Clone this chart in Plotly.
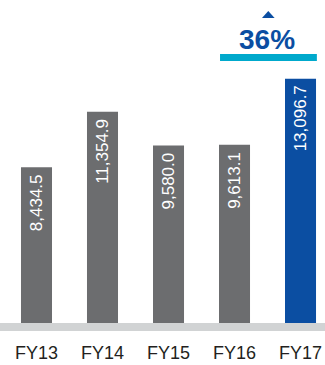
import plotly.graph_objects as go

# Fiscal-year totals
years = ["FY13", "FY14", "FY15", "FY16", "FY17"]
values = [8434.5, 11354.9, 9580.0, 9613.1, 13096.7]
bar_colors = ["#6c6d6f", "#6c6d6f", "#6c6d6f", "#6c6d6f", "#0b4ea2"]
growth_label = "36%"

FONT = "Liberation Sans, Arial, sans-serif"
BLUE = "#0b4ea2"
CYAN = "#00a9cc"

fig = go.Figure(
    go.Bar(
        x=years,
        y=values,
        marker=dict(color=bar_colors, line=dict(width=0)),
        width=0.47,
        hoverinfo="skip",
    )
)

fig.update_layout(
    width=325,
    height=365,
    margin=dict(l=0, r=0, t=0, b=38),
    paper_bgcolor="white",
    plot_bgcolor="white",
    showlegend=False,
    xaxis=dict(
        range=[-0.553, 4.371],
        showgrid=False,
        zeroline=False,
        showline=False,
        ticks="",
        ticklabelstandoff=13,
        tickfont=dict(family=FONT, size=18, color="#231f20"),
        fixedrange=True,
    ),
    yaxis=dict(
        range=[0, 17259],
        visible=False,
        fixedrange=True,
    ),
    shapes=[
        # baseline band
        dict(type="rect", xref="paper", yref="paper", x0=0, x1=1,
             y0=-0.0123, y1=0.0123, fillcolor="#d1d3d4", line=dict(width=0),
             layer="above"),
        # cyan underline beneath growth figure
        dict(type="rect", xref="paper", yref="paper", x0=0.677, x1=0.975,
             y0=0.8135, y1=0.8349, fillcolor=CYAN, line=dict(width=0)),
        # up-arrow marker
        dict(type="path", xref="paper", yref="paper",
             path="M 0.806 0.945 L 0.845 0.945 L 0.8255 0.9664 Z",
             fillcolor=BLUE, line=dict(width=0)),
    ],
)

# growth figure above the latest bar
fig.add_annotation(
    text=f"<b>{growth_label}</b>", xref="paper", yref="paper",
    x=0.822, y=0.88, xanchor="center", yanchor="middle",
    showarrow=False, font=dict(family=FONT, size=28, color=BLUE),
)

# value labels, rotated and tucked just under each bar top
for yr, v in zip(years, values):
    fig.add_annotation(
        x=yr, y=v, text=f"{v:,.1f}", textangle=-90,
        xanchor="center", yanchor="top", yshift=-5,
        showarrow=False, font=dict(family=FONT, size=17, color="white"),
    )

fig.write_html("out.html")
